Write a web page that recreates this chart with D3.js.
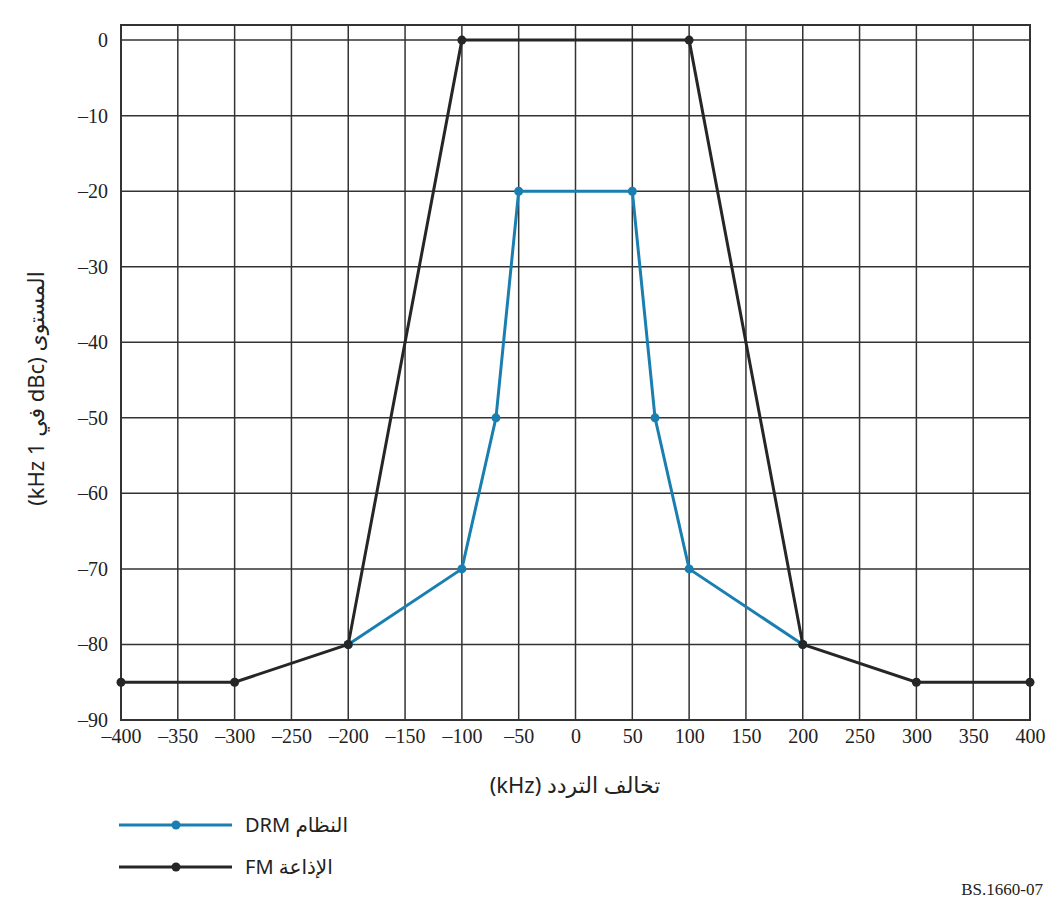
<!DOCTYPE html>
<meta charset="utf-8">
<head>
 <title>BS.1660-07</title>
</head>

<style>
body { margin: 0; background: #fff; }
.tick text { font-family: "Liberation Serif", "Times New Roman", serif; font-size: 20px; fill: #222; }
.lab { font-family: "Noto Sans", "DejaVu Sans", sans-serif; font-size: 20px; fill: #222; }
</style>

<body>
 <svg width="1053" height="908"></svg>

 <script src="https://d3js.org/d3.v7.min.js"></script>
 <script>
// data
var xTicks = [-400, -350, -300, -250, -200, -150, -100, -50, 0, 50, 100, 150, 200, 250, 300, 350, 400]
var yTicks = [0, -10, -20, -30, -40, -50, -60, -70, -80, -90]

var drmX = [-200, -100, -70, -50, 50, 70, 100, 200]
var drmY = [-80, -70, -50, -20, -20, -50, -70, -80]
var fmX = [-400, -300, -200, -100, 100, 200, 300, 400]
var fmY = [-85, -85, -80, 0, 0, -80, -85, -85]

var drmName = "النظام DRM"
var fmName = "الإذاعة FM"
var drmColor = "#1a7fb0", fmColor = "#262626"

var svg = d3.select("svg")
var pLeft = 121, pRight = 1030, pTop = 25, pBottom = 720

var x = d3.scaleLinear().domain([-400, 400]).range([pLeft, pRight])
var y = d3.scaleLinear().domain([-90, 2]).range([pBottom, pTop])

// grid
svg.append("g").selectAll("line").data(xTicks).enter().append("line")
  .attr("x1", d => x(d)).attr("x2", d => x(d))
  .attr("y1", pTop).attr("y2", pBottom)
  .attr("stroke", "#333").attr("stroke-width", 1.5)
svg.append("g").selectAll("line").data(yTicks).enter().append("line")
  .attr("x1", pLeft).attr("x2", pRight)
  .attr("y1", d => y(d)).attr("y2", d => y(d))
  .attr("stroke", "#333").attr("stroke-width", 1.5)
svg.append("rect").attr("x", pLeft).attr("y", pTop)
  .attr("width", pRight - pLeft).attr("height", pBottom - pTop)
  .attr("fill", "none").attr("stroke", "#333").attr("stroke-width", 2)

// axes (labels only)
var fmt = d => d < 0 ? "\u2013" + Math.abs(d) : "" + d
var xAxis = svg.append("g").attr("transform", "translate(0," + pBottom + ")")
  .call(d3.axisBottom(x).tickValues(xTicks).tickFormat(fmt).tickSize(0).tickPadding(9))
var yAxis = svg.append("g").attr("transform", "translate(" + pLeft + ",0)")
  .call(d3.axisLeft(y).tickValues(yTicks).tickFormat(fmt).tickSize(0).tickPadding(13))
xAxis.select(".domain").remove()
yAxis.select(".domain").remove()

// series
function drawSeries(xs, ys, color) {
  var pts = xs.map((v, i) => [v, ys[i]])
  var line = d3.line().x(d => x(d[0])).y(d => y(d[1]))
  svg.append("path").datum(pts).attr("d", line)
    .attr("fill", "none").attr("stroke", color).attr("stroke-width", 3)
  svg.append("g").selectAll("circle").data(pts).enter().append("circle")
    .attr("cx", d => x(d[0])).attr("cy", d => y(d[1])).attr("r", 4.5)
    .attr("fill", color)
}
drawSeries(drmX, drmY, drmColor)
drawSeries(fmX, fmY, fmColor)

// axis titles
svg.append("text").attr("class", "lab").style("font-size", "22px")
  .attr("transform", "translate(44," + ((pTop + pBottom) / 2 + 16) + ") rotate(-90)")
  .attr("text-anchor", "middle").attr("direction", "rtl")
  .text("المستوى (dBc في 1 kHz)")
svg.append("text").attr("class", "lab").style("font-size", "22px")
  .attr("x", 575).attr("y", 793)
  .attr("text-anchor", "middle").attr("direction", "rtl")
  .text("تخالف التردد (kHz)")

// legend
var legend = [[drmName, drmColor, 825], [fmName, fmColor, 867]]
legend.forEach(function(l) {
  svg.append("line").attr("x1", 119).attr("x2", 232).attr("y1", l[2]).attr("y2", l[2])
    .attr("stroke", l[1]).attr("stroke-width", 3)
  svg.append("circle").attr("cx", 176).attr("cy", l[2]).attr("r", 4.5).attr("fill", l[1])
  svg.append("text").attr("class", "lab").attr("x", 245).attr("y", l[2] + 7)
    .attr("text-anchor", "end").attr("direction", "rtl").text(l[0])
})

svg.append("text").attr("x", 1043).attr("y", 895).attr("text-anchor", "end")
  .style("font-family", "'Liberation Serif', serif").style("font-size", "17px").style("fill", "#222")
  .text("BS.1660-07")
 </script>
</body>
